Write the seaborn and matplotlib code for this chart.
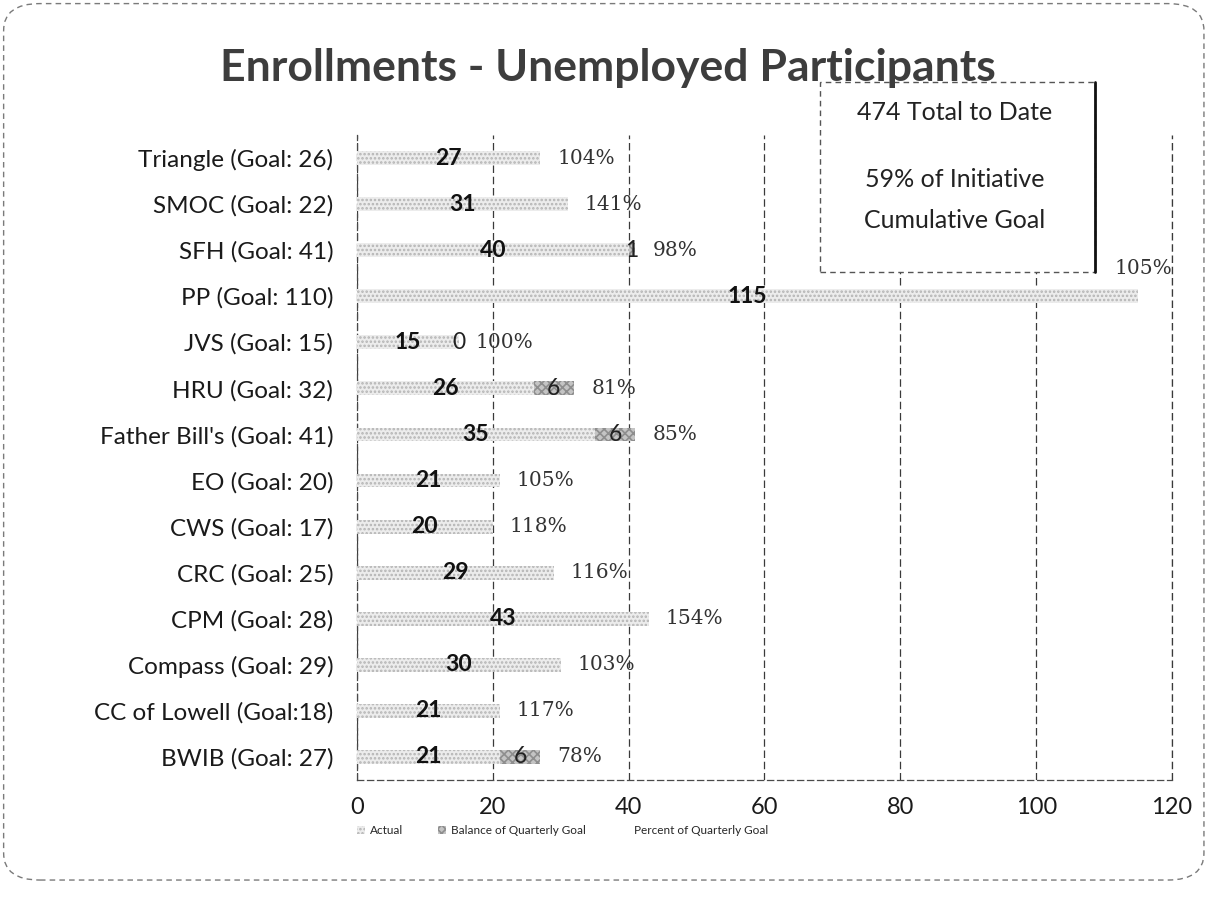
import pandas as pd
import seaborn as sns
import matplotlib.pyplot as plt
from matplotlib.patches import Patch, FancyBboxPatch, Rectangle

# --- data ---
names = ["Triangle (Goal: 26)", "SMOC (Goal: 22)", "SFH (Goal: 41)", "PP (Goal: 110)",
         "JVS (Goal: 15)", "HRU (Goal: 32)", "Father Bill's (Goal: 41)", "EO (Goal: 20)",
         "CWS (Goal: 17)", "CRC (Goal: 25)", "CPM (Goal: 28)", "Compass (Goal: 29)",
         "CC of Lowell (Goal:18)", "BWIB (Goal: 27)"]
goals = [26, 22, 41, 110, 15, 32, 41, 20, 17, 25, 28, 29, 18, 27]
actual = [27, 31, 40, 115, 15, 26, 35, 21, 20, 29, 43, 30, 21, 21]
balance = [None, None, 1, None, 0, 6, 6, None, None, None, None, None, None, 6]
pct = [104, 141, 98, 105, 100, 81, 85, 105, 118, 116, 154, 103, 117, 78]
x_ticks = [0, 20, 40, 60, 80, 100, 120]

df = pd.DataFrame({"name": names, "actual": actual,
                   "balance": [b if b is not None else 0 for b in balance]})
df["total"] = df["actual"] + df["balance"]

sns.set_style("white")
plt.rcParams['font.family'] = ['Lato', 'DejaVu Sans']
plt.rcParams['hatch.linewidth'] = 1.2

fig = plt.figure(figsize=(12.1, 8.98), dpi=100)
ax = fig.add_axes([0.295, 0.1314, 0.6736, 0.7183])

# back bar = actual + balance (darker), front bar = actual (light)
sns.barplot(data=df, y="name", x="total", orient="h", color="#c4c4c4", saturation=1,
            width=0.3, hatch="xxxx", edgecolor="#8e8e8e", linewidth=0, ax=ax, zorder=2)
sns.barplot(data=df, y="name", x="actual", orient="h", color="#ececec", saturation=1,
            width=0.3, hatch="....", edgecolor="#b4b4b4", linewidth=0, ax=ax, zorder=3)

ax.set_xlim(0, 120)
ax.set_xticks(x_ticks)
ax.set_xlabel("")
ax.set_ylabel("")
ax.tick_params(axis="y", length=0, pad=17, labelsize=17.5, labelcolor="#1a1a1a")
ax.tick_params(axis="x", length=0, pad=12, labelsize=17, labelcolor="#1a1a1a")

ax.grid(axis="x", color="#3a3a3a", linestyle=(0, (6, 3)), linewidth=0.9, zorder=0)
ax.grid(axis="y", visible=False)
ax.axvline(120, color="#3a3a3a", linestyle=(0, (6, 3)), linewidth=0.9, zorder=0, clip_on=False)
for side in ["top", "right"]:
    ax.spines[side].set_visible(False)
for side in ["left", "bottom"]:
    ax.spines[side].set_color("#4a4a4a")
    ax.spines[side].set_linestyle((0, (5, 3)))
    ax.spines[side].set_linewidth(0.9)

# labels
for i, row in df.iterrows():
    ax.text(row["actual"] / 2, i, str(row["actual"]), ha="center", va="center",
            fontsize=16.5, fontweight="bold", color="#111111", zorder=5)
    if balance[i] is not None:
        ax.text(row["actual"] + row["balance"] / 2, i, str(balance[i]), ha="center",
                va="center", fontsize=16.5, color="#222222", zorder=5)
    end = row["total"]
    if end + 2.5 > 110:
        ax.text(120, i - 0.6, f"{pct[i]}%", ha="right", va="center", fontsize=14.5,
                family="DejaVu Serif", color="#333333", zorder=5)
    else:
        ax.text(end + 2.5, i, f"{pct[i]}%", ha="left", va="center", fontsize=14.5,
                family="DejaVu Serif", color="#333333", zorder=5)

# title (drawn above the info box)
fig.text(0.502, 0.924, "Enrollments - Unemployed Participants", ha="center", va="center",
         fontsize=32, fontweight="bold", color="#3d3d3d", zorder=10)

# info box
box = Rectangle((0.678, 0.697), 0.227, 0.212, transform=fig.transFigure,
                facecolor="white", edgecolor="#555555", linewidth=1.0,
                linestyle=(0, (4, 3)), zorder=6)
fig.add_artist(box)
fig.add_artist(plt.Line2D([0.905, 0.905], [0.697, 0.909], transform=fig.transFigure,
                          color="#111111", linewidth=2, zorder=7))
fig.text(0.789, 0.875, "474 Total to Date", ha="center", va="center", fontsize=18,
         color="#222222", zorder=8)
fig.text(0.789, 0.800, "59% of Initiative", ha="center", va="center", fontsize=18,
         color="#222222", zorder=8)
fig.text(0.789, 0.755, "Cumulative Goal", ha="center", va="center", fontsize=18,
         color="#222222", zorder=8)

# legend
handles = [Patch(facecolor="#ececec", hatch="....", edgecolor="#b4b4b4", linewidth=0, label="Actual"),
           Patch(facecolor="#c4c4c4", hatch="xxxx", edgecolor="#8e8e8e", linewidth=0,
                 label="Balance of Quarterly Goal"),
           Patch(facecolor="white", edgecolor="white", label="Percent of Quarterly Goal")]
fig.legend(handles=handles, loc="center", bbox_to_anchor=(0.465, 0.075), ncol=3,
           frameon=False, fontsize=8.5, handlelength=0.7, handleheight=0.7,
           columnspacing=3.0, handletextpad=0.4)

# outer chart border
border = FancyBboxPatch((0.003, 0.02), 0.992, 0.976, boxstyle="round,pad=0,rounding_size=0.03",
                        transform=fig.transFigure, facecolor="none", edgecolor="#7a7a7a",
                        linewidth=1.0, linestyle=(0, (4, 3)))
fig.add_artist(border)

plt.savefig("out.png", dpi=100)
